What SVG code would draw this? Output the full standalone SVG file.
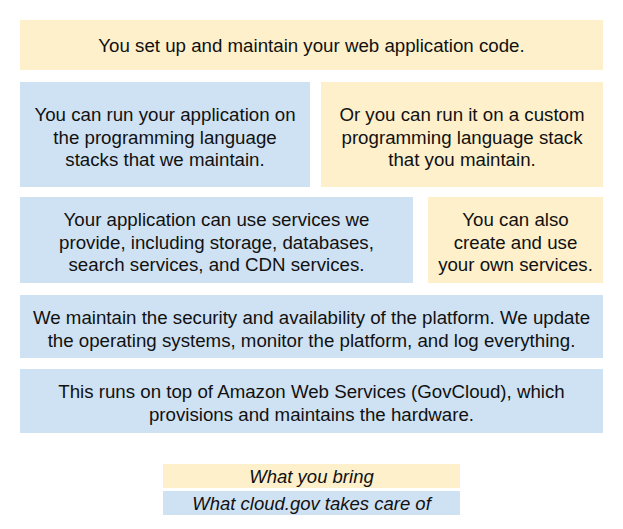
<svg xmlns="http://www.w3.org/2000/svg" width="623" height="529" viewBox="0 0 623 529">
<style>
.y{fill:#fdf0cb}
.b{fill:#cfe2f3}
text{font-family:"Liberation Sans",Arial,sans-serif;font-size:18.7px;fill:#111;text-anchor:middle}
.i{font-style:italic;font-size:18.5px}
</style>
<rect width="623" height="529" fill="#fff"/>
<g id="code"><rect class="y" x="20" y="20" width="583" height="50"/><text x="311.5" y="52">You set up and maintain your web application code.</text></g>
<g id="stacks"><rect class="b" x="20" y="82" width="290" height="105"/><text x="165" y="121">You can run your application on</text><text x="165" y="143.5">the programming language</text><text x="165" y="166">stacks that we maintain.</text></g>
<g id="custom-stack"><rect class="y" x="321" y="82" width="282" height="105"/><text x="462" y="121">Or you can run it on a custom</text><text x="462" y="143.5">programming language stack</text><text x="462" y="166">that you maintain.</text></g>
<g id="services"><rect class="b" x="20" y="197" width="393" height="86"/><text x="216.5" y="226">Your application can use services we</text><text x="216.5" y="248.5">provide, including storage, databases,</text><text x="216.5" y="271">search services, and CDN services.</text></g>
<g id="own-services"><rect class="y" x="428" y="197" width="175" height="86"/><text x="515.5" y="226">You can also</text><text x="515.5" y="248.5">create and use</text><text x="515.5" y="271">your own services.</text></g>
<g id="platform"><rect class="b" x="20" y="295" width="583" height="63"/><text x="311.5" y="324">We maintain the security and availability of the platform. We update</text><text x="311.5" y="346.5">the operating systems, monitor the platform, and log everything.</text></g>
<g id="aws"><rect class="b" x="20" y="369" width="583" height="64"/><text x="311.5" y="398">This runs on top of Amazon Web Services (GovCloud), which</text><text x="311.5" y="420.5">provisions and maintains the hardware.</text></g>
<g id="legend-bring"><rect class="y" x="163" y="464" width="297" height="24"/><text class="i" x="311.5" y="482.5">What you bring</text></g>
<g id="legend-cloud"><rect class="b" x="163" y="491" width="297" height="24"/><text class="i" x="311.5" y="509.5">What cloud.gov takes care of</text></g>
<g id="connectors"/>
</svg>
